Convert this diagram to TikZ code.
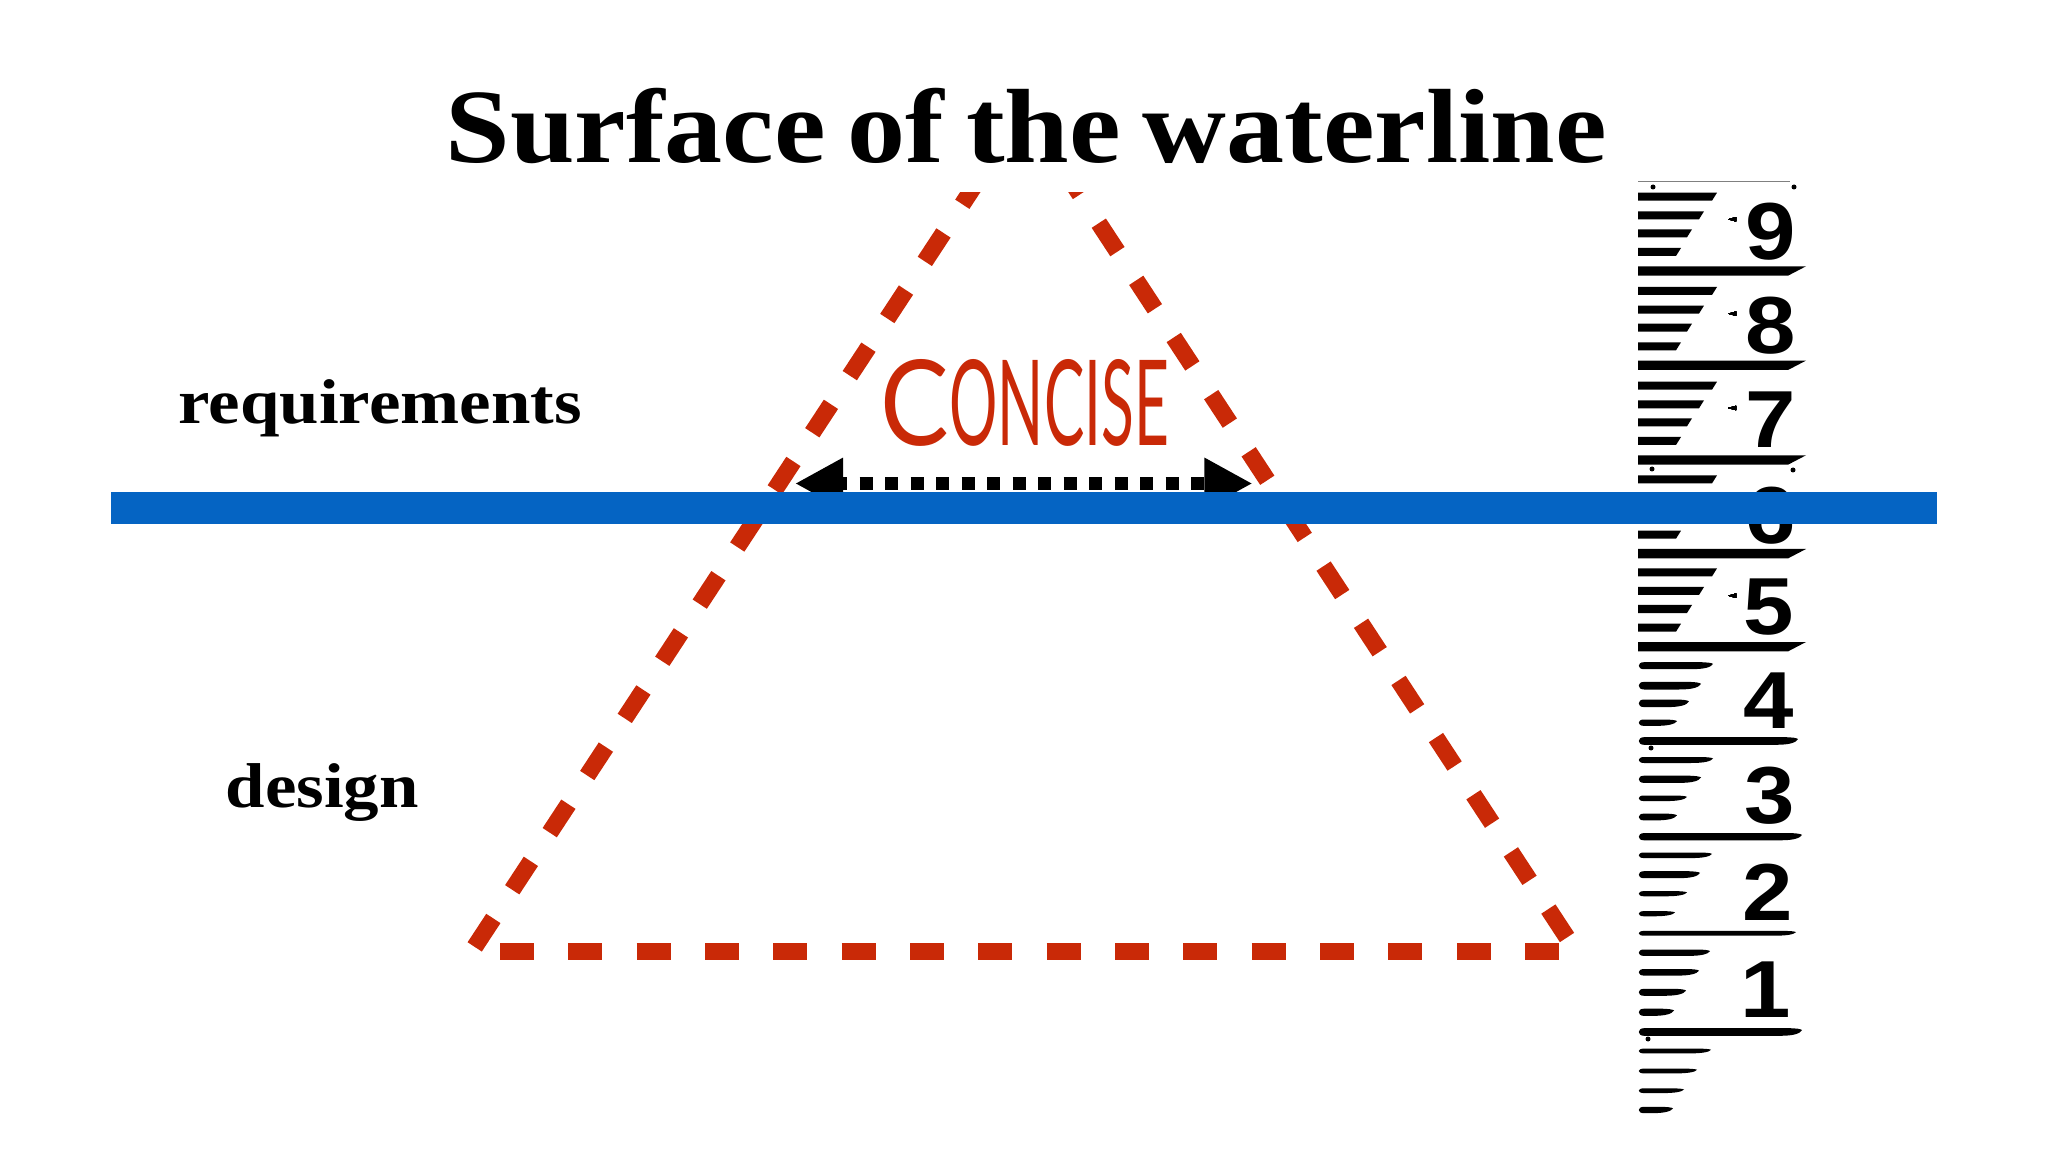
\documentclass[tikz,border=0pt]{standalone}
\usepackage{fontspec}
\usetikzlibrary{%
	calc,%
	arrows.meta%
}
\setmainfont{Liberation Serif}
\newfontfamily\titlefont[FakeStretch=1.1,WordSpace=0.75]{Liberation Serif}
\newfontfamily\labelfont[FakeStretch=1.12]{Liberation Serif}
\newfontfamily\rulerfont[FakeStretch=1.12]{Liberation Sans}
\newfontfamily\concisefont{Lato}
\definecolor{dashred}{RGB}{201,41,7}
\definecolor{waterblue}{RGB}{5,100,195}
\tikzset{
	side/.style={draw=dashred, line width=0.17cm, dash pattern=on 0.34cm off 0.343cm},
	waterline/.style={draw=waterblue, line width=0.32cm},
	span/.style={draw=black, line width=0.132cm, dash pattern=on 0.132cm off 0.123cm, dash phase=0.06cm, {Triangle[length=0.48cm,width=0.48cm]}-{Triangle[length=0.48cm,width=0.48cm]}},
	heading/.style={font=\titlefont\bfseries\fontsize{30}{30}\selectfont, anchor=base west, inner sep=0},
	levellabel/.style={font=\labelfont\bfseries\fontsize{18}{18}\selectfont, anchor=base west, inner sep=0},
	digit/.style={font=\rulerfont\bfseries\fontsize{23}{23}\selectfont, inner sep=0}
}
% rounded tick of the lower half of the ruler: {y}{right end}{half thickness}
\newcommand{\roundtick}[3]{
	\fill (1644,#1-#3) -- (#2-14,#1-#3) .. controls (#2-6,#1-#3) and (#2-1,#1-0.8*#3) .. (#2,#1-0.5*#3) .. controls (#2-2,#1+0.4*#3) and (#2-8,#1+#3) .. (#2-22,#1+#3) -- (1644,#1+#3) .. controls (1637,#1+#3) and (1637,#1-#3) .. (1644,#1-#3) -- cycle;
}

\begin{document}
\begin{tikzpicture}[x=0.01cm, y=-0.01cm, line join=bevel]
	\useasboundingbox (0,0) rectangle (2048,1152);

	\coordinate (apex) at (1024.4,109.7);
	\coordinate (footL) at (474.7,946.9);
	\coordinate (footR) at (1567,937.5);
	\coordinate (baseL) at (500,951.3);
	\coordinate (baseR) at (1558.7,951.3);
	\coordinate (tipL) at (795,483.5);
	\coordinate (tipR) at (1252.5,483.5);
	\coordinate (waterL) at (111,508.3);
	\coordinate (waterR) at (1937,508.3);

	\begin{scope}
		\clip (0,193) rectangle (2048,1152);
		\draw[side] (footL) -- (apex);
		\draw[side] (footR) -- (apex);
	\end{scope}
	\draw[side] (baseL) -- (baseR);

	\draw[span] (tipL) -- (tipR);

	% Ruler
	\draw[gray, line width=0.01cm] (1638,182) -- (1790,182);
	\foreach \main in {271,365.3,460,553.7,646.7}{
		\fill (1638,\main-4.7) -- (1806,\main-4.7) -- (1788,\main+4.7) -- (1638,\main+4.7) -- cycle;
		\foreach \off/\len in {74.3/1717,55.7/1704,37.7/1692,19/1681}
		\fill (1638,\main-\off-4) -- (\len,\main-\off-4) -- (\len-5,\main-\off+4) -- (1638,\main-\off+4) -- cycle;
	}
	\foreach \y/\len/\half in {665.7/1713/3.5,685.7/1701/3.8,703.3/1689/3.8,722.7/1677/3.2,
		741/1798/3.8,760/1713/3,779.3/1701/3.6,798.3/1687/2.8,817/1677/3.4,
		836.7/1802/3.6,855.3/1712/2.8,874.7/1700/3.5,893.7/1687/2.6,913.7/1675/2.6,
		933.3/1796/2.4,952.7/1710/3.2,972.3/1699/3.3,992.3/1686/3.5,1012.3/1674/3.6,
		1032/1802/3.8,1051/1711/2.4,1071/1697/2.4,1090.7/1684/2.4,1110/1673/3.2}
	\roundtick{\y}{\len}{\half}
	% Small marks beside the digits
	\foreach \y in {219.3,313.7,408,595.7}
	\fill (1728,\y) -- (1736,\y-2.2) -- (1736,\y+2.2) -- cycle;
	\foreach \x/\y in {1653/187,1794/187,1652/469,1793/470,1651/748,1648/1039}
	\fill (\x,\y) circle (0.025cm);

	\node[digit] (d9) at (1771,231.3) {9};
	\node[digit] (d8) at (1771,325.8) {8};
	\node[digit] (d7) at (1771,420) {7};
	\node[digit] (d6) at (1771,515.5) {6};
	\node[digit] (d5) at (1769,607.5) {5};
	\node[digit] (d4) at (1769,701) {4};
	\node[digit] (d3) at (1769.5,796) {3};
	\node[digit] (d2) at (1767.5,892) {2};
	\node[digit] (d1) at (1766,989.7) {1};

	\draw[waterline] (waterL) -- (waterR);

	\node[heading] (title) at (445,162.7) {Surface of the waterline};
	\node[levellabel] (requirements) at (178,423.3) {requirements};
	\node[levellabel] (design) at (225,807.3) {design};
	\node[inner sep=0, text=dashred] (concise) at (1025,403) {\resizebox{2.88cm}{0.86cm}{\concisefont\scalebox{1.7}[1]{C}ONCISE}};
\end{tikzpicture}
\end{document}
